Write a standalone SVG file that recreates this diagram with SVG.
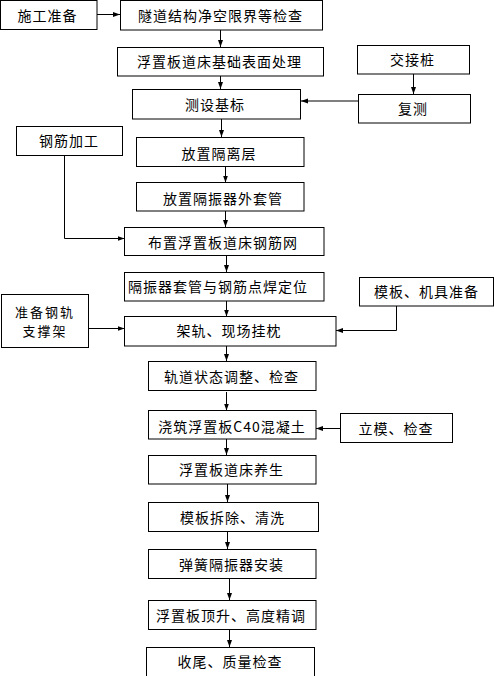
<svg xmlns="http://www.w3.org/2000/svg" width="494" height="676" viewBox="0 0 494 676">
<style>
.b{fill:#fff;stroke:#000;stroke-width:1}
.t{font-family:"Noto Sans CJK SC","Liberation Sans",sans-serif;font-size:14px;letter-spacing:1px;text-anchor:middle;dominant-baseline:central;fill:#000}
.s{font-size:13px;letter-spacing:2px}
.c{fill:none;stroke:#000;stroke-width:1}
</style>
<defs>
<marker id="a" markerUnits="userSpaceOnUse" markerWidth="7" markerHeight="6" refX="7" refY="3" orient="auto">
<path d="M0,0.5 L7,3 L0,5.5 Z" fill="#000"/>
</marker>
</defs>
<g id="connectors">
<path class="c" d="M97,14.5 H120" marker-end="url(#a)"/>
<path class="c" d="M220.5,30 V47" marker-end="url(#a)"/>
<path class="c" d="M220.5,76 V89" marker-end="url(#a)"/>
<path class="c" d="M413.5,74 V94" marker-end="url(#a)"/>
<path class="c" d="M358.5,101 H301" marker-end="url(#a)"/>
<path class="c" d="M221.5,119 V137" marker-end="url(#a)"/>
<path class="c" d="M225.5,166.5 V182.5" marker-end="url(#a)"/>
<path class="c" d="M225.5,211 V227" marker-end="url(#a)"/>
<path class="c" d="M64.5,155.5 V238.5 H124.5" marker-end="url(#a)"/>
<path class="c" d="M226.5,255.5 V272" marker-end="url(#a)"/>
<path class="c" d="M226.5,301 V316.5" marker-end="url(#a)"/>
<path class="c" d="M88,328.5 H124.5" marker-end="url(#a)"/>
<path class="c" d="M396.5,306 V330.5 H336" marker-end="url(#a)"/>
<path class="c" d="M226.5,346 V361" marker-end="url(#a)"/>
<path class="c" d="M226.5,392 V410.5" marker-end="url(#a)"/>
<path class="c" d="M340,428.5 H316" marker-end="url(#a)"/>
<path class="c" d="M226.5,439 V455" marker-end="url(#a)"/>
<path class="c" d="M227.5,484 V502" marker-end="url(#a)"/>
<path class="c" d="M227.5,531.5 V549" marker-end="url(#a)"/>
<path class="c" d="M229.5,579 V600" marker-end="url(#a)"/>
<path class="c" d="M229.5,629 V647" marker-end="url(#a)"/>
</g>
<g id="n1"><rect class="b" x="0.5" y="0.5" width="96.5" height="29"/><text class="t" x="47.5" y="14.5">施工准备</text></g>
<g id="n2"><rect class="b" x="120.5" y="0.5" width="202" height="29.5"/><text class="t" x="220.5" y="15">隧道结构净空限界等检查</text></g>
<g id="n3"><rect class="b" x="117.5" y="47.5" width="206" height="28.5"/><text class="t" x="219.5" y="61">浮置板道床基础表面处理</text></g>
<g id="n4"><rect class="b" x="132.5" y="89.5" width="168" height="29.5"/><text class="t" x="215" y="104">测设基标</text></g>
<g id="n5"><rect class="b" x="357.5" y="45.5" width="112" height="28.5"/><text class="t" x="412.5" y="58.5">交接桩</text></g>
<g id="n6"><rect class="b" x="358.5" y="94.5" width="112" height="28.5"/><text class="t" x="413" y="107.5">复测</text></g>
<g id="n7"><rect class="b" x="16.5" y="126.5" width="106" height="29"/><text class="t" x="69" y="140">钢筋加工</text></g>
<g id="n8"><rect class="b" x="136.5" y="137.5" width="167.5" height="29"/><text class="t" x="219" y="152.5">放置隔离层</text></g>
<g id="n9"><rect class="b" x="136.5" y="182.5" width="167.5" height="28.5"/><text class="t" x="223" y="197.5">放置隔振器外套管</text></g>
<g id="n10"><rect class="b" x="124.5" y="227.5" width="199.5" height="28"/><text class="t" x="223" y="241.5">布置浮置板道床钢筋网</text></g>
<g id="n11"><rect class="b" x="124.5" y="272.5" width="199.5" height="28.5"/><text class="t" x="218" y="285.5">隔振器套管与钢筋点焊定位</text></g>
<g id="n12"><rect class="b" x="124.5" y="316.5" width="211.5" height="29.5"/><text class="t" x="229" y="329.5">架轨、现场挂枕</text></g>
<g id="n13"><rect class="b" x="1.5" y="294.5" width="87" height="53"/><text class="t s" x="45" y="311.5">准备钢轨</text><text class="t s" x="45" y="330.5">支撑架</text></g>
<g id="n14"><rect class="b" x="359.5" y="277.5" width="134" height="28.5"/><text class="t" x="426.5" y="291">模板、机具准备</text></g>
<g id="n15"><rect class="b" x="148.5" y="361.5" width="167.5" height="29"/><text class="t" x="231.5" y="375.5">轨道状态调整、检查</text></g>
<g id="n16"><rect class="b" x="148.5" y="410.5" width="167.5" height="28.5"/><text class="t" x="232" y="425.5">浇筑浮置板C40混凝土</text></g>
<g id="n17"><rect class="b" x="340.5" y="413.5" width="112" height="29"/><text class="t" x="396" y="428">立模、检查</text></g>
<g id="n18"><rect class="b" x="148.5" y="455.5" width="167.5" height="28.5"/><text class="t" x="231.5" y="469">浮置板道床养生</text></g>
<g id="n19"><rect class="b" x="148.5" y="502.5" width="170" height="29"/><text class="t" x="232.5" y="517">模板拆除、清洗</text></g>
<g id="n20"><rect class="b" x="148.5" y="549.5" width="167.5" height="29"/><text class="t" x="231.5" y="564">弹簧隔振器安装</text></g>
<g id="n21"><rect class="b" x="148.5" y="600.5" width="167.5" height="29"/><text class="t" x="231" y="614.5">浮置板顶升、高度精调</text></g>
<g id="n22"><rect class="b" x="146.5" y="647.5" width="168" height="31"/><text class="t" x="230" y="661">收尾、质量检查</text></g>
</svg>
